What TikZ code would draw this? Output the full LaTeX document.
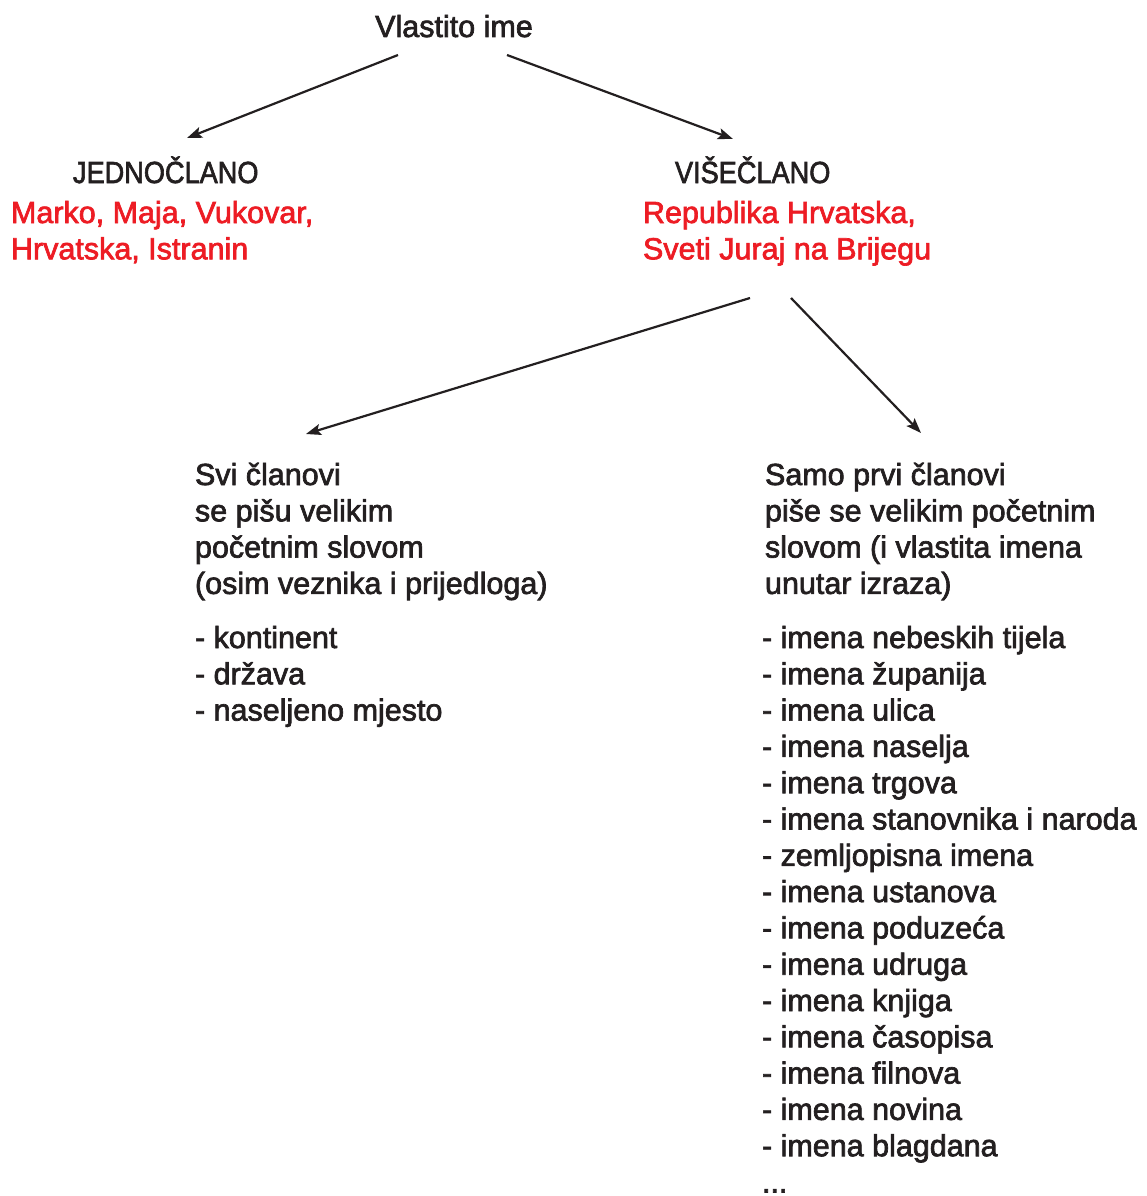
\documentclass[tikz,border=0pt]{standalone}
\usepackage{fontspec}
\setmainfont{Liberation Sans}
\newfontfamily\medfont{Liberation Sans}[FakeBold=2.2]
\usetikzlibrary{arrows.meta,calc}
\definecolor{ink}{HTML}{231F20}
\definecolor{redtxt}{HTML}{ED1C24}
\newcommand\mylines[1]{\vtop{\baselineskip=36.3pt\relax #1}}
\newcommand\narrow[1]{\scalebox{0.89}[1]{#1}}
\tikzset{
  txt/.style={inner sep=0pt, outer sep=0pt, text=ink, font=\medfont\fontsize{30.5}{36.3}\selectfont},
  redblk/.style={txt, text=redtxt},
  arr/.style={draw=ink, line width=2.2pt, -{Stealth[length=15pt,width=11pt,inset=3pt]}}
}
\begin{document}
\begin{tikzpicture}[x=1pt,y=-1pt]
\useasboundingbox[fill=white] (0,0) rectangle (1146,1196);

\node[txt, anchor=base] (vi) at (454,37) {Vlastito ime};
\node[txt, anchor=base west] (jed) at (73,183) {\narrow{JEDNOČLANO}};
\node[redblk, anchor=base west] (jedr) at (11,223) {\mylines{\hbox{Marko, Maja, Vukovar,}\hbox{Hrvatska, Istranin}}};
\node[txt, anchor=base west] (vis) at (675,183) {\narrow{VIŠEČLANO}};
\node[redblk, anchor=base west] (visr) at (643,223) {\mylines{\hbox{Republika Hrvatska,}\hbox{Sveti Juraj na Brijegu}}};

\node[txt, anchor=base west] (svi) at (195,485) {\mylines{\hbox{Svi članovi}\hbox{se pišu velikim}\hbox{početnim slovom}\hbox{(osim veznika i prijedloga)}}};
\node[txt, anchor=base west] (svil) at (195,648) {\mylines{\hbox{- kontinent}\hbox{- država}\hbox{- naseljeno mjesto}}};

\node[txt, anchor=base west] (samo) at (765,485) {\mylines{\hbox{Samo prvi članovi}\hbox{piše se velikim početnim}\hbox{slovom (i vlastita imena}\hbox{unutar izraza)}}};
\node[txt, anchor=base west] (samol) at (762,648) {\mylines{%
\hbox{- imena nebeskih tijela}\hbox{- imena županija}\hbox{- imena ulica}\hbox{- imena naselja}%
\hbox{- imena trgova}\hbox{- imena stanovnika i naroda}\hbox{- zemljopisna imena}\hbox{- imena ustanova}%
\hbox{- imena poduzeća}\hbox{- imena udruga}\hbox{- imena knjiga}\hbox{- imena časopisa}%
\hbox{- imena filnova}\hbox{- imena novina}\hbox{- imena blagdana}\hbox{...}}};

\draw[arr] ($(vi.base)+(-56,18)$) -- ($(jed.base west)+(114,-45)$);
\draw[arr] ($(vi.base)+(53,18)$) -- ($(vis.base west)+(58,-44)$);
\draw[arr] ($(visr.base west)+(107,75)$) -- ($(svi.base west)+(111,-51)$);
\draw[arr] ($(visr.base west)+(148,75)$) -- ($(samo.base west)+(156,-52)$);
\end{tikzpicture}
\end{document}
